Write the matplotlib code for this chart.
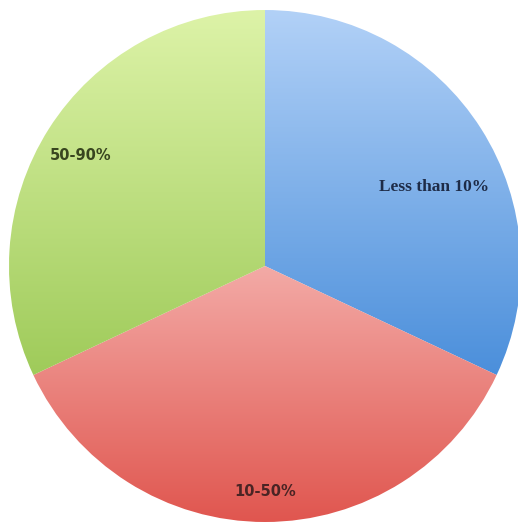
import matplotlib
matplotlib.use("Agg")
import matplotlib.pyplot as plt
import numpy as np
from matplotlib.colors import LinearSegmentedColormap

labels = ["Less than 10%", "10-50%", "50-90%"]
shares = [32, 36, 32]
top_colors = ["#b2d1f7", "#f3aaa6", "#ddf3a8"]
bottom_colors = ["#4b8fdb", "#e0564f", "#9fcb5a"]
label_pos = [(0.66, 0.31), (0.0, -0.88), (-0.72, 0.43)]
label_fonts = ["Liberation Serif", "DejaVu Sans", "DejaVu Sans"]
label_sizes = [12.5, 10.5, 10.5]
label_colors = ["#1e2c48", "#4a2424", "#38451f"]

fig = plt.figure(figsize=(5.18, 5.22), dpi=100)
ax = fig.add_axes([0, 0, 1, 1])
r = 256.0

wedges, _ = ax.pie(shares, startangle=90, counterclock=False, radius=1,
                   colors=["none"] * 3, wedgeprops=dict(linewidth=0))
ax.set_aspect("equal")
ax.axis("off")

grad = np.linspace(0, 1, 256).reshape(-1, 1)
for w, c0, c1 in zip(wedges, top_colors, bottom_colors):
    cmap = LinearSegmentedColormap.from_list("g", [c0, c1])
    ext = w.get_path().get_extents(w.get_patch_transform())
    im = ax.imshow(grad, cmap=cmap, aspect="auto", origin="upper",
                   extent=[ext.x0, ext.x1, ext.y0, ext.y1], zorder=1)
    im.set_clip_path(w)

for lab, (x, y), fam, fs, col in zip(labels, label_pos, label_fonts,
                                     label_sizes, label_colors):
    ax.text(x, y, lab, ha="center", va="center", fontsize=fs,
            fontweight="bold", family=fam, color=col, zorder=3)

ax.set_xlim(-265 / r, (518 - 265) / r)
ax.set_ylim(-(522 - 266) / r, 266 / r)
fig.savefig("out.png", dpi=100)
